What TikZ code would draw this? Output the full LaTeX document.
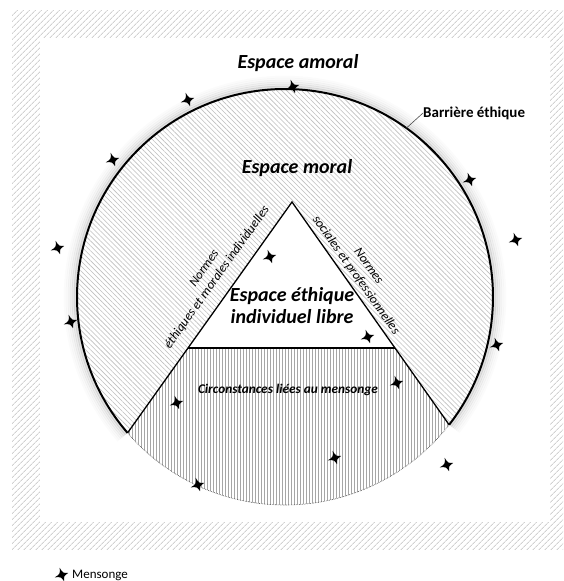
\documentclass[tikz,border=0pt]{standalone}
\usepackage{fontspec}
\setmainfont{Carlito}
\usetikzlibrary{patterns.meta,calc}
\begin{document}
\begin{tikzpicture}[x=1pt,y=-1pt,
  bigl/.style={font=\fontsize{20}{22}\selectfont\bfseries\itshape, align=center, inner sep=0pt},
  smalll/.style={font=\fontsize{13}{15.5}\selectfont\itshape, align=center, inner sep=0pt},
  mstar/.pic={\fill[black,rotate=18] (0,-7.5) .. controls (1.5,-1.5) .. (6.5,0) .. controls (1.5,1.5) .. (0,6.5) .. controls (-1.5,1.5) .. (-7.5,0) .. controls (-1.5,-1.5) .. cycle;}
]
\useasboundingbox (0,0) rectangle (563,581);
\fill[white] (0,0) rectangle (563,581);
% frame
\fill[pattern={Lines[angle=45,distance=4pt,line width=1pt]}, pattern color=black!18] (12,10) rectangle (563,549);
\fill[white] (40,38) rectangle (550,522);

\coordinate (C) at (285,297);
\coordinate (A) at (292,202);
\coordinate (P) at ($(C)+(139.2:208)$);
\coordinate (Q) at ($(C)+(37.9:208)$);
\coordinate (L) at (188,348);
\coordinate (R) at (394.9,348);

% shadow
\foreach \k/\o in {2/0.12,4/0.08,6/0.06,8/0.04,10/0.025,12/0.015}
  \draw[black, opacity=\o, line width=2.5pt] (C) ++(139.2:{208+\k}) arc[start angle=139.2, end angle=397.9, radius={208+\k}];

% circle interior
\fill[white] (C) circle[radius=208];
\fill[pattern={Lines[angle=-45,distance=3.5pt,line width=0.6pt]}, pattern color=black!25] (C) circle[radius=208];
% triangle
\fill[white] (A) -- (L) -- (R) -- cycle;
% trapezoid
\fill[white] (L) -- (P) arc[start angle=139.2,end angle=37.9,radius=208] -- (R) -- cycle;
\fill[pattern={Lines[angle=90,distance=3pt,line width=0.5pt]}, pattern color=black!35] (L) -- (P) arc[start angle=139.2,end angle=37.9,radius=208] -- (R) -- cycle;

% borders
\draw[line width=2pt] (P) arc[start angle=139.2, end angle=397.9, radius=208];
\draw[densely dotted, gray!50!black, line width=0.6pt] (Q) arc[start angle=37.9, end angle=139.2, radius=208];
\draw[line width=1.3pt, line join=miter] (P) -- (A) -- (Q);
\draw[line width=1.3pt] (L) -- (R);

% texts
\node[bigl] (amoral) at (298,63) {Espace amoral};
\node[bigl] (moral) at (297,168) {Espace moral};
\node[bigl] (libre) at (292,306) {Espace éthique\\individuel libre};
\node[smalll, rotate=54.5] (nl) at (211,273) {Normes\\éthiques et morales individuelles};
\node[smalll, rotate=-54.8] (nr) at (362,271) {Normes\\sociales et professionnelles};
\node[font=\fontsize{13.3}{15}\selectfont\bfseries\itshape, inner sep=0pt] (circ) at (288,390) {Circonstances liées au mensonge};
\node[font=\fontsize{15}{18}\selectfont\bfseries, anchor=west, inner sep=0pt] (barr) at (423,113) {Barrière éthique};
\coordinate (bpt) at ($(C)+(-54.3:208)$);
\draw[gray!60!black, line width=0.6pt] (bpt) -- (barr.west);

% stars
\foreach \p in {(188,100),(293,87),(113,160),(470,180),(516,240),(58,248),(270,257),(71,322),(497,345),(368,337),(397,383),(177,403),(335,458),(447,465),(198,485)}
  \pic at \p {mstar};

% legend
\pic at (62,575) {mstar};
\node[font=\fontsize{13}{15}\selectfont, anchor=west, inner sep=0pt] (leg) at (72,575) {Mensonge};
\end{tikzpicture}
\end{document}
